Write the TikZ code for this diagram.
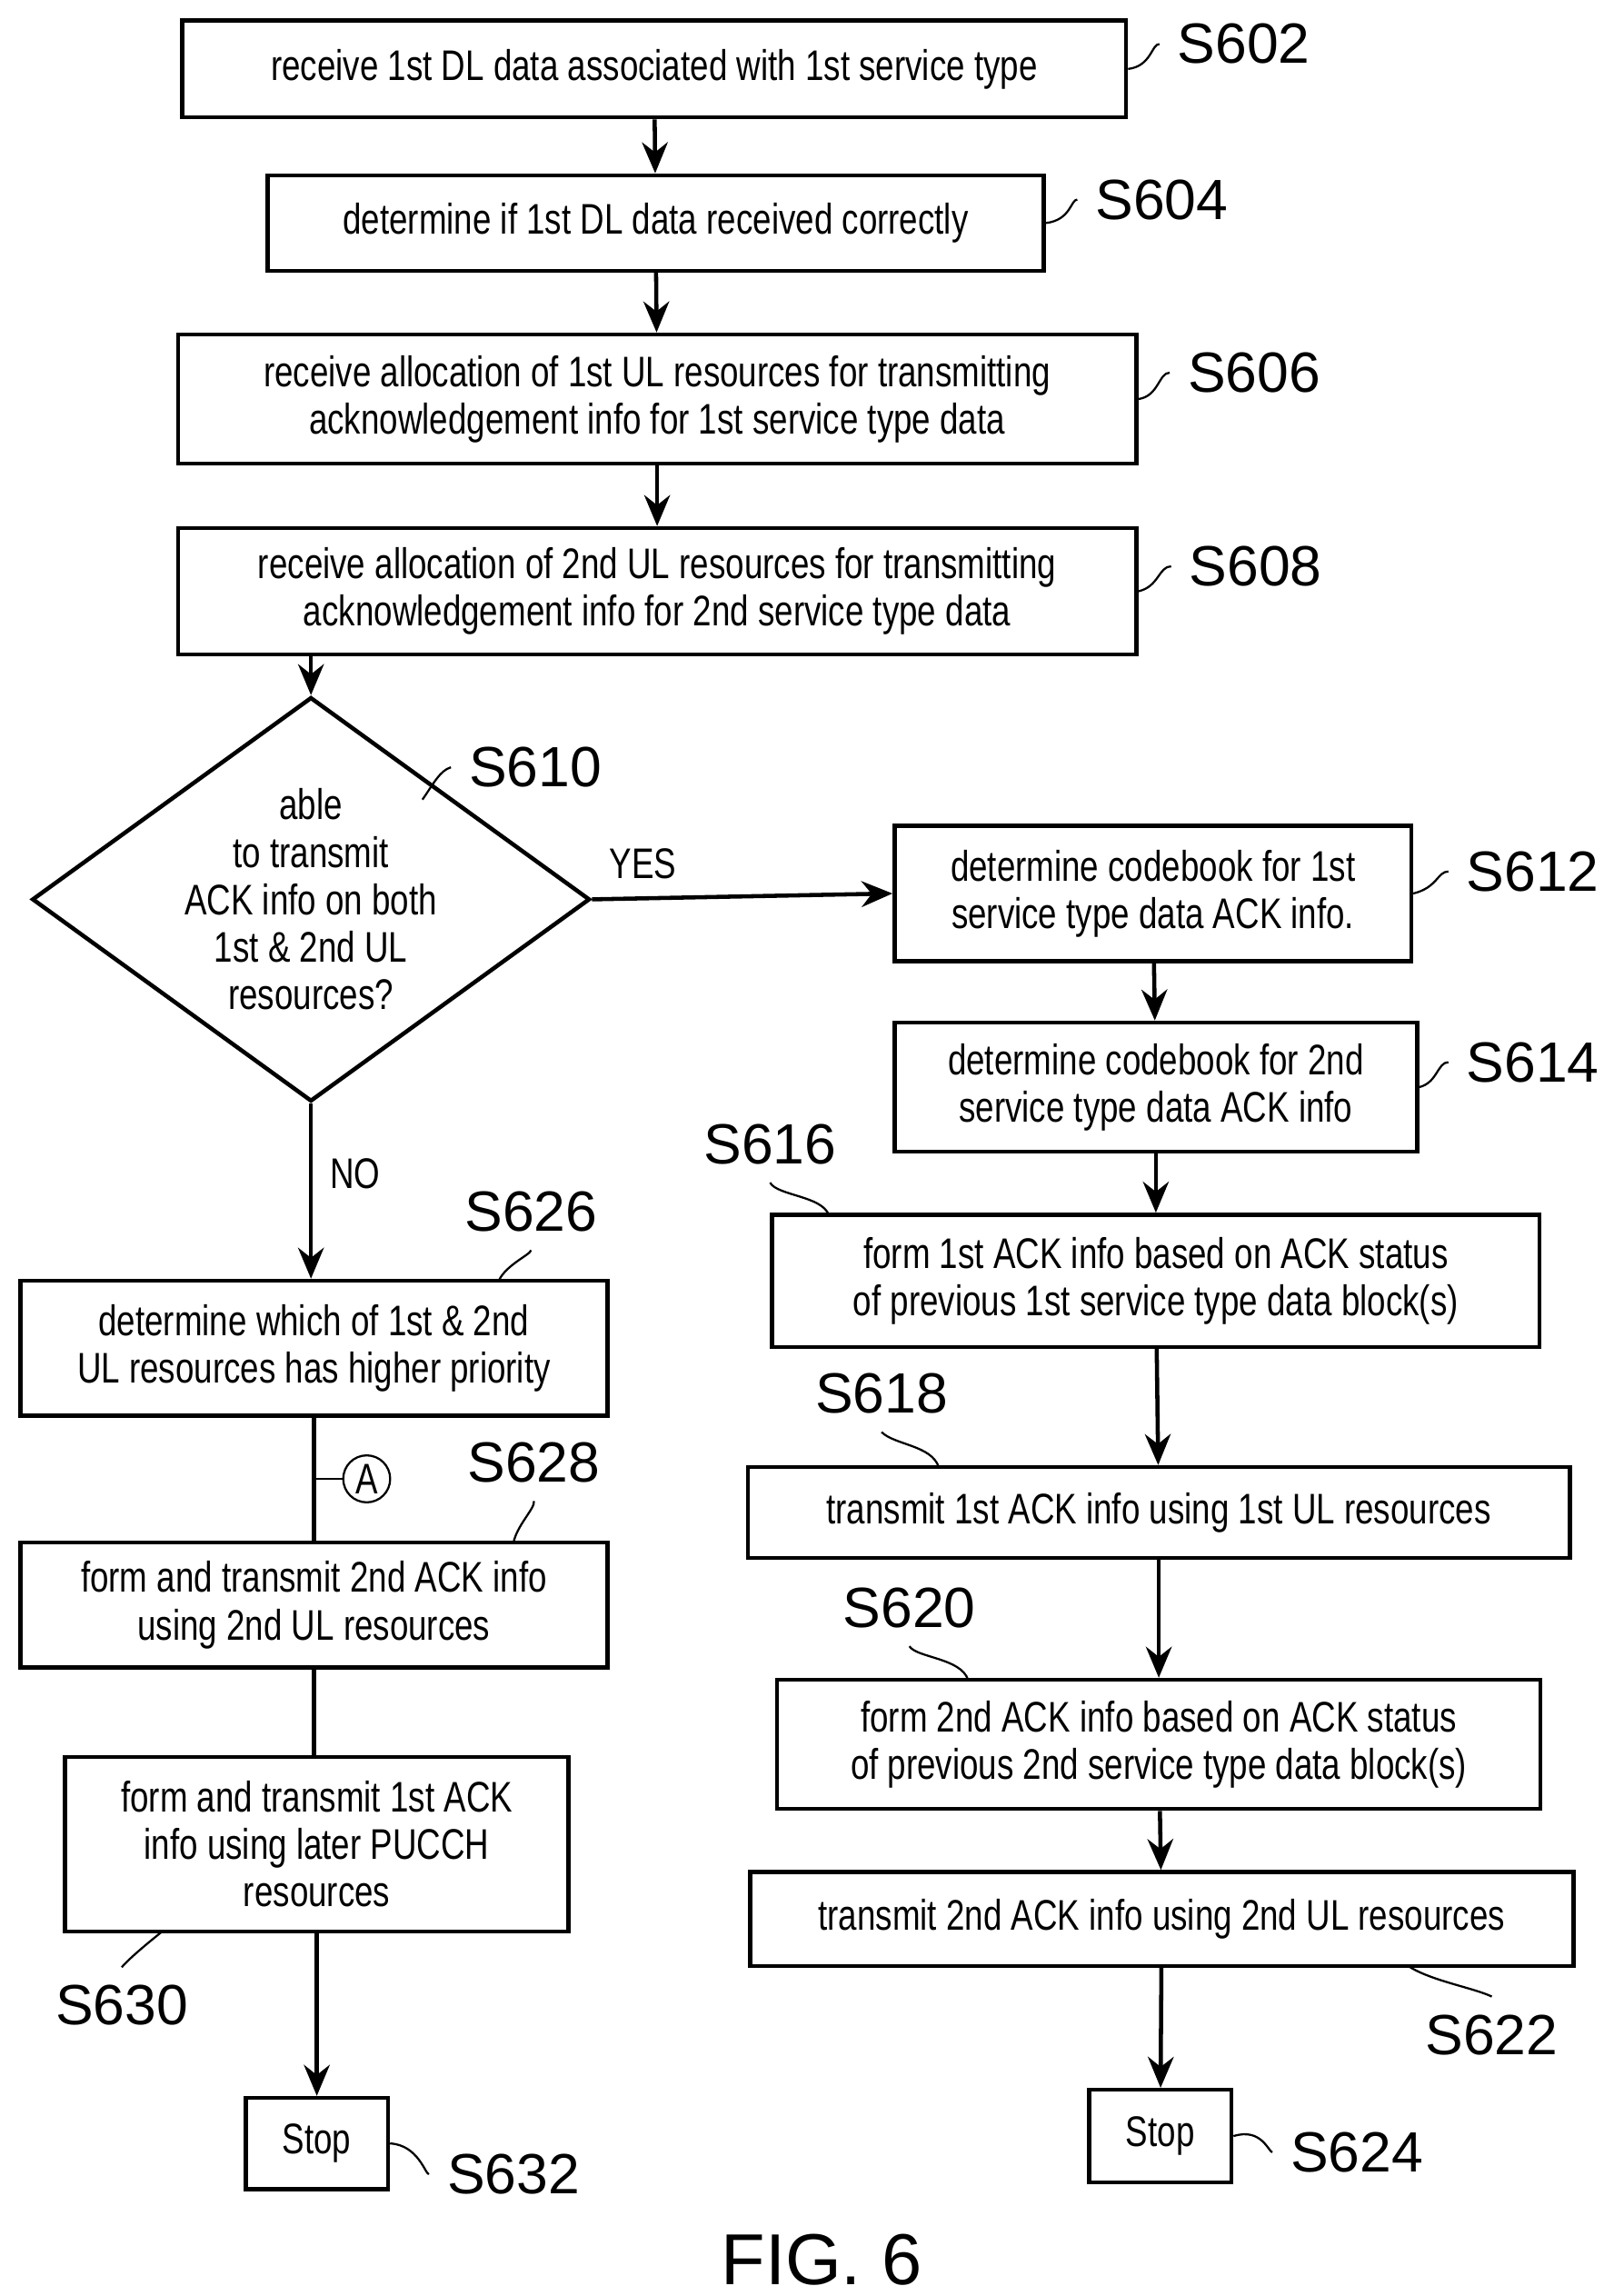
\documentclass[tikz,border=0pt]{standalone}
\usepackage{fontspec}
\setmainfont{Liberation Sans}
\newfontfamily\narrowfont[FakeStretch=0.78]{Liberation Sans}
\usetikzlibrary{arrows.meta, positioning, shapes.geometric}

\tikzset{
    stepbox/.style={draw, thick, align=center, inner sep=1pt, font=\narrowfont\fontsize{8.3}{9.2}\selectfont},
    decide/.style={draw, thick, diamond, aspect=1.38, align=center, inner sep=0pt, minimum width=3.36cm, minimum height=2.43cm, font=\narrowfont\fontsize{8.3}{9.2}\selectfont},
    tag/.style={font=\fontsize{11}{12}\selectfont},
    flow/.style={thick, -{Stealth[length=6pt, width=5pt]}},
    lead/.style={thin},
}

\begin{document}
\begin{tikzpicture}[x=0.01cm, y=-0.01cm]
    \useasboundingbox (0,0) rectangle (1100,1565);

    % Main column
    \node[stepbox, minimum width=6.43cm, minimum height=0.66cm] (s602) at (446,47) {receive 1st DL data associated with 1st service type};
    \node[stepbox, minimum width=5.29cm, minimum height=0.65cm] (s604) at (447,152) {determine if 1st DL data received correctly};
    \node[stepbox, minimum width=6.53cm, minimum height=0.88cm] (s606) at (448,272) {receive allocation of 1st UL resources for transmitting\\acknowledgement info for 1st service type data};
    \node[stepbox, minimum width=6.53cm, minimum height=0.86cm] (s608) at (448,403) {receive allocation of 2nd UL resources for transmitting\\acknowledgement info for 2nd service type data};
    \node[decide] (s610) at (212,613) {able\\to transmit\\ACK info on both\\1st \& 2nd UL\\resources?};

    % YES branch
    \node[stepbox, minimum width=3.52cm, minimum height=0.92cm] (s612) at (786,609) {determine codebook for 1st\\service type data ACK info.};
    \node[stepbox, minimum width=3.56cm, minimum height=0.88cm] (s614) at (788,741) {determine codebook for 2nd\\service type data ACK info};
    \node[stepbox, minimum width=5.23cm, minimum height=0.90cm] (s616) at (788,873) {form 1st ACK info based on ACK status\\of previous 1st service type data block(s)};
    \node[stepbox, minimum width=5.60cm, minimum height=0.62cm] (s618) at (790,1031) {transmit 1st ACK info using 1st UL resources};
    \node[stepbox, minimum width=5.20cm, minimum height=0.88cm] (s620) at (790,1189) {form 2nd ACK info based on ACK status\\of previous 2nd service type data block(s)};
    \node[stepbox, minimum width=5.61cm, minimum height=0.64cm] (s622) at (792,1308) {transmit 2nd ACK info using 2nd UL resources};
    \node[stepbox, minimum width=0.97cm, minimum height=0.63cm] (s624) at (791,1456) {Stop};

    % NO branch
    \node[stepbox, minimum width=4.00cm, minimum height=0.92cm] (s626) at (214,919) {determine which of 1st \& 2nd\\UL resources has higher priority};
    \node[stepbox, minimum width=4.00cm, minimum height=0.85cm] (s628) at (214,1094) {form and transmit 2nd ACK info\\using 2nd UL resources};
    \node[stepbox, minimum width=3.43cm, minimum height=1.19cm] (s630) at (216,1257) {form and transmit 1st ACK\\info using later PUCCH\\resources};
    \node[stepbox, minimum width=0.97cm, minimum height=0.62cm] (s632) at (216,1461) {Stop};
    \node[draw, circle, thin, inner sep=0pt, minimum size=0.32cm, font=\narrowfont\fontsize{8.3}{9}\selectfont] (conA) at (250,1008) {A};

    % Connectors
    \draw[flow] (s602) -- (s604);
    \draw[flow] (s604) -- (s606);
    \draw[flow] (s606) -- (s608);
    \draw[flow] (s608.south -| s610.north) -- (s610.north);
    \draw[flow] (s610.east) -- node[above, pos=0.17, font=\narrowfont\fontsize{8.3}{9}\selectfont] {YES} (s612.west);
    \draw[flow] (s612) -- (s614);
    \draw[flow] (s614) -- (s616);
    \draw[flow] (s616) -- (s618);
    \draw[flow] (s618) -- (s620);
    \draw[flow] (s620) -- (s622);
    \draw[flow] (s622) -- (s624);
    \draw[flow] (s610.south) -- node[right, pos=0.4, font=\narrowfont\fontsize{8.3}{9}\selectfont] {NO} (s626.north -| s610.south);
    \draw[thick] (s626) -- (s628);
    \draw[thin] (conA.west) -- (conA.west -| s626.south);
    \draw[thick] (s628) -- (s630.north -| s628.south);
    \draw[flow] (s630) -- (s632);

    % Step labels
    \node[tag] (t602) at (848,30) {S602};
    \node[tag] (t604) at (792,136) {S604};
    \node[tag] (t606) at (855,254) {S606};
    \node[tag] (t608) at (856,386) {S608};
    \node[tag] (t610) at (365,523) {S610};
    \node[tag] (t612) at (1045,594) {S612};
    \node[tag] (t614) at (1045,724) {S614};
    \node[tag] (t616) at (525,780) {S616};
    \node[tag] (t618) at (601,950) {S618};
    \node[tag] (t620) at (620,1096) {S620};
    \node[tag] (t622) at (1017,1387) {S622};
    \node[tag] (t624) at (925,1467) {S624};
    \node[tag] (t626) at (362,826) {S626};
    \node[tag] (t628) at (364,997) {S628};
    \node[tag] (t630) at (83,1367) {S630};
    \node[tag] (t632) at (350,1482) {S632};
    \node[font=\fontsize{14}{16}\selectfont] (fig) at (560,1540) {FIG. 6};

    % Leaders
    \draw[lead] (t602.west) .. controls (785,30) and (785,45) .. (s602.east);
    \draw[lead] (t604.west) .. controls (730,136) and (730,150) .. (s604.east);
    \draw[lead] (t606.west) .. controls (790,254) and (790,270) .. (s606.east);
    \draw[lead] (t608.west) .. controls (790,386) and (790,400) .. (s608.east);
    \draw[lead] (t610.west) .. controls (300,525) and (295,535) .. (288,545);
    \draw[lead] (t612.west) .. controls (980,594) and (980,605) .. (s612.east);
    \draw[lead] (t614.west) .. controls (980,724) and (980,738) .. (s614.east);
    \draw[lead] (t616.south) .. controls (530,815) and (560,815) .. (565,828);
    \draw[lead] (t618.south) .. controls (610,985) and (635,985) .. (640,1000);
    \draw[lead] (t620.south) .. controls (625,1130) and (655,1130) .. (660,1145);
    \draw[lead] (t622.north) .. controls (1005,1355) and (975,1350) .. (960,1340);
    \draw[lead] (t624.west) .. controls (865,1467) and (860,1450) .. (s624.east);
    \draw[lead] (t626.south) .. controls (362,855) and (345,862) .. (340,873);
    \draw[lead] (t628.south) .. controls (365,1028) and (352,1040) .. (350,1052);
    \draw[lead] (t630.north) .. controls (88,1335) and (100,1325) .. (110,1317);
    \draw[lead] (t632.west) .. controls (290,1482) and (285,1462) .. (s632.east);
\end{tikzpicture}
\end{document}
